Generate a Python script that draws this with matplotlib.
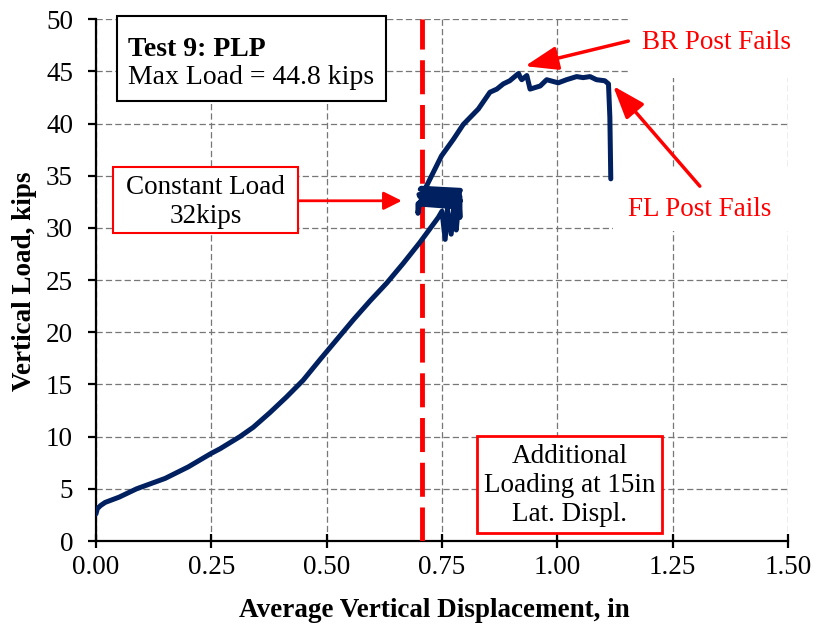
import numpy as np
import matplotlib.pyplot as plt
from matplotlib.patches import Rectangle

plt.rcParams['font.family'] = ['Liberation Serif', 'DejaVu Serif']

# initial loading up to constant load
load_disp = [0.0, 0.003, 0.01, 0.02, 0.05, 0.088, 0.15, 0.2, 0.25, 0.269,
             0.312, 0.341, 0.377, 0.413, 0.449, 0.486, 0.522, 0.558, 0.594,
             0.630, 0.666, 0.702, 0.742]
load_kips = [2.6, 3.1, 3.4, 3.7, 4.2, 5.0, 6.0, 7.1, 8.4, 8.84,
             10.0, 10.9, 12.3, 13.8, 15.4, 17.4, 19.3, 21.2, 23.0,
             24.7, 26.6, 28.6, 31.0]

# held at ~32 kips (noisy creep block)
hold_disp = [0.750, 0.757, 0.762, 0.770, 0.776, 0.781, 0.787, 0.789, 0.789,
             0.700, 0.790, 0.703, 0.788, 0.700, 0.786, 0.702, 0.790, 0.705,
             0.785, 0.698, 0.698, 0.700, 0.706]
hold_kips = [31.6, 28.9, 31.8, 29.4, 32.0, 29.8, 32.8, 31.0, 33.0,
             33.2, 32.6, 33.7, 33.3, 32.4, 32.2, 33.0, 33.6, 33.8,
             32.0, 32.3, 31.4, 32.0, 32.8]

# additional loading to failure
fail_disp = [0.713, 0.731, 0.749, 0.775, 0.796, 0.829, 0.854, 0.869, 0.883,
             0.897, 0.916, 0.920, 0.923, 0.934, 0.941, 0.963, 0.977, 1.002,
             1.020, 1.042, 1.056, 1.071, 1.085, 1.103, 1.111, 1.114, 1.116]
fail_kips = [33.7, 35.3, 36.9, 38.5, 39.9, 41.4, 43.0, 43.3, 43.8,
             44.1, 44.8, 44.4, 44.2, 44.6, 43.3, 43.6, 44.2, 43.9,
             44.2, 44.5, 44.4, 44.5, 44.2, 44.1, 43.8, 40.6, 34.7]

disp = load_disp + hold_disp + fail_disp
kips = load_kips + hold_kips + fail_kips

const_load_disp = 0.707
x_ticks = np.arange(0, 1.51, 0.25)
y_ticks = np.arange(0, 51, 5)

fig = plt.figure(figsize=(8.16, 6.31), dpi=100)
ax = fig.add_axes([0.1176, 0.1426, 0.848, 0.827])

ax.plot(disp, kips, color='#002060', lw=3.6, zorder=4,
        solid_joinstyle='round', solid_capstyle='round')
ax.axvline(const_load_disp, color='red', lw=3.5, dashes=(7, 2.2), zorder=3)

ax.set_xlim(0, 1.5)
ax.set_ylim(0, 50)
ax.set_xticks(x_ticks)
ax.set_yticks(y_ticks)
ax.set_xticklabels([f"{v:.2f}" for v in x_ticks])
ax.grid(True, color='#777777', lw=0.9, dashes=(5, 2.5))
for side in ['top', 'right']:
    ax.spines[side].set_visible(False)
for side in ['left', 'bottom']:
    ax.spines[side].set_linewidth(1.6)
ax.tick_params(axis='x', direction='inout', length=10, width=1.6,
               labelsize=19.5, pad=5)
ax.tick_params(axis='y', direction='out', length=5.5, width=1.6,
               labelsize=19.5, pad=11)

fig.text(25 / 816, 0.5547, "Vertical Load, kips", rotation=90,
         ha='center', va='center', fontsize=19.5, fontweight='bold')
fig.text(0.532, 0.033, "Average Vertical Displacement, in",
         ha='center', va='center', fontsize=19.5, fontweight='bold')

# title box
ax.add_patch(Rectangle((0.046, 42.2), 0.583, 8.1, facecolor='white',
                       edgecolor='black', lw=1.5, zorder=5, clip_on=False))
ax.text(0.07, 47.1, "Test 9: PLP", fontsize=20, fontweight='bold',
        ha='left', va='center', zorder=6)
ax.text(0.07, 44.4, "Max Load = 44.8 kips", fontsize=20,
        ha='left', va='center', zorder=6)

# constant load note
ax.add_patch(Rectangle((0.036, 29.5), 0.403, 6.3, facecolor='white',
                       edgecolor='red', lw=1.5, zorder=5))
ax.text(0.2375, 32.5, "Constant Load\n32kips", fontsize=19.5,
        ha='center', va='center', linespacing=1.22, zorder=6)
ax.annotate("", xy=(0.663, 32.6), xytext=(0.439, 32.6), zorder=6,
            arrowprops=dict(arrowstyle='-|>,head_length=1.1,head_width=0.55',
                            color='red', lw=2, mutation_scale=10,
                            shrinkA=0, shrinkB=0))

# additional loading note
ax.add_patch(Rectangle((0.825, 0.77), 0.403, 9.28, facecolor='white',
                       edgecolor='red', lw=2, zorder=5))
ax.text(1.026, 5.3, "Additional\nLoading at 15in\nLat. Displ.",
        fontsize=19.5, ha='center', va='center', linespacing=1.2, zorder=6)

# failure notes
ax.add_patch(Rectangle((1.153, 44.4), 0.4, 6.5, facecolor='white',
                       edgecolor='none', zorder=2, clip_on=False))
ax.text(1.183, 47.8, "BR Post Fails", color='red', fontsize=19.5,
        ha='left', va='center', zorder=6)
ax.annotate("", xy=(0.930, 45.5), xytext=(1.154, 47.9), zorder=6,
            annotation_clip=False,
            arrowprops=dict(arrowstyle='-|>,head_length=1.0,head_width=0.36',
                            color='red', lw=2.5, mutation_scale=20,
                            shrinkA=0, shrinkB=0))

ax.add_patch(Rectangle((1.121, 29.7), 0.4, 5.9, facecolor='white',
                       edgecolor='none', zorder=2, clip_on=False))
ax.text(1.309, 31.8, "FL Post Fails", color='red', fontsize=19.5,
        ha='center', va='center', zorder=6)
ax.annotate("", xy=(1.121, 43.6), xytext=(1.309, 34.0), zorder=6,
            arrowprops=dict(arrowstyle='-|>,head_length=1.0,head_width=0.36',
                            color='red', lw=2.5, mutation_scale=20,
                            shrinkA=0, shrinkB=0))

fig.savefig("out.png", dpi=100)
